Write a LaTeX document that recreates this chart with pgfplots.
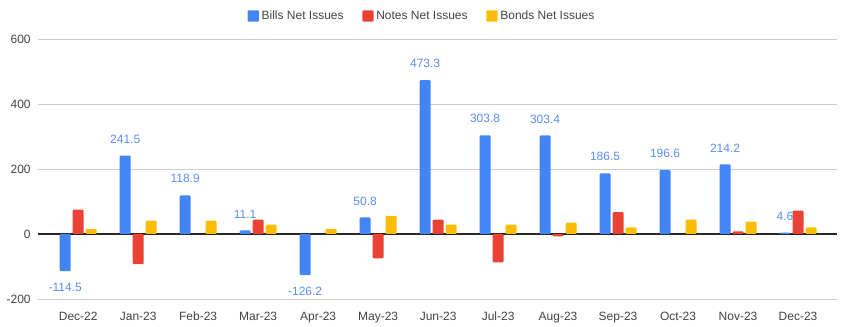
\documentclass[border=0pt]{standalone}
\usepackage{pgfplots}
\pgfplotsset{compat=1.18}
\usepackage{fontspec}
\setmainfont{Liberation Sans}
\definecolor{cBlue}{HTML}{4285F4}
\definecolor{cRed}{HTML}{EA4335}
\definecolor{cYellow}{HTML}{FBBC04}
\definecolor{cLab}{HTML}{5B8FF0}
\definecolor{cText}{HTML}{444444}
\definecolor{cGrid}{HTML}{CCCCCC}
\begin{document}
\begin{tikzpicture}
\path[fill=white, use as bounding box] (0,0) rectangle (633.75pt,245.25pt);
\begin{axis}[
  at={(28.5pt,21pt)}, anchor=south west,
  scale only axis, width=599.25pt, height=195pt,
  xmin=-0.67, xmax=12.65, ymin=-200, ymax=600,
  ytick={-200,200,400,600},
  extra y ticks={0},
  extra y tick style={grid style={draw=black!85, line width=0.9pt}},
  xtick={0,...,12},
  xticklabels={Dec-22,Jan-23,Feb-23,Mar-23,Apr-23,May-23,Jun-23,Jul-23,Aug-23,Sep-23,Oct-23,Nov-23,Dec-23},
  ymajorgrids, grid style={draw=cGrid, line width=0.6pt},
  axis line style={draw=none}, tick style={draw=none},
  tick label style={font=\fontsize{9}{10}\selectfont, text=cText},
  /pgf/number format/assume math mode=true,
  yticklabel style={xshift=-2pt},
  xticklabel style={yshift=-2pt},
  ybar=1.5pt, bar width=8.25pt,
  clip=false,
  legend style={draw=none, fill=none, at={(0.481,1.0885)}, anchor=center,
    font=\fontsize{9}{10}\selectfont, text=cText,
    /tikz/every even column/.append style={column sep=12pt}},
  legend columns=3,
  legend image code/.code={\fill[#1] (0pt,-4.3pt) rectangle (8.5pt,4.3pt);},
  every axis plot/.append style={draw=none, rounded corners=0.8pt},
]
\addplot[fill=cBlue,
  nodes near coords={\pgfmathprintnumber[fixed,precision=1,fixed zerofill,assume math mode=true]{\pgfplotspointmeta}},
  nodes near coords style={font=\fontsize{9}{10}\selectfont, text=cLab, inner ysep=9pt},
  nodes near coords align={vertical}]
  coordinates {(0,-114.5) (1,241.5) (2,118.9) (3,11.1) (4,-126.2) (5,50.8) (6,473.3) (7,303.8) (8,303.4) (9,186.5) (10,196.6) (11,214.2) (12,4.6)};
\addlegendentry{Bills Net Issues}
\addplot[fill=cRed]
  coordinates {(0,75) (1,-93) (3,44) (5,-75) (6,44) (7,-87) (8,-7) (9,67) (11,8) (12,72)};
\addlegendentry{Notes Net Issues}
\addplot[fill=cYellow]
  coordinates {(0,16) (1,41) (2,41) (3,29) (4,16) (5,56) (6,29) (7,29) (8,35) (9,20) (10,44) (11,38) (12,20)};
\addlegendentry{Bonds Net Issues}
\end{axis}
\end{tikzpicture}
\end{document}
